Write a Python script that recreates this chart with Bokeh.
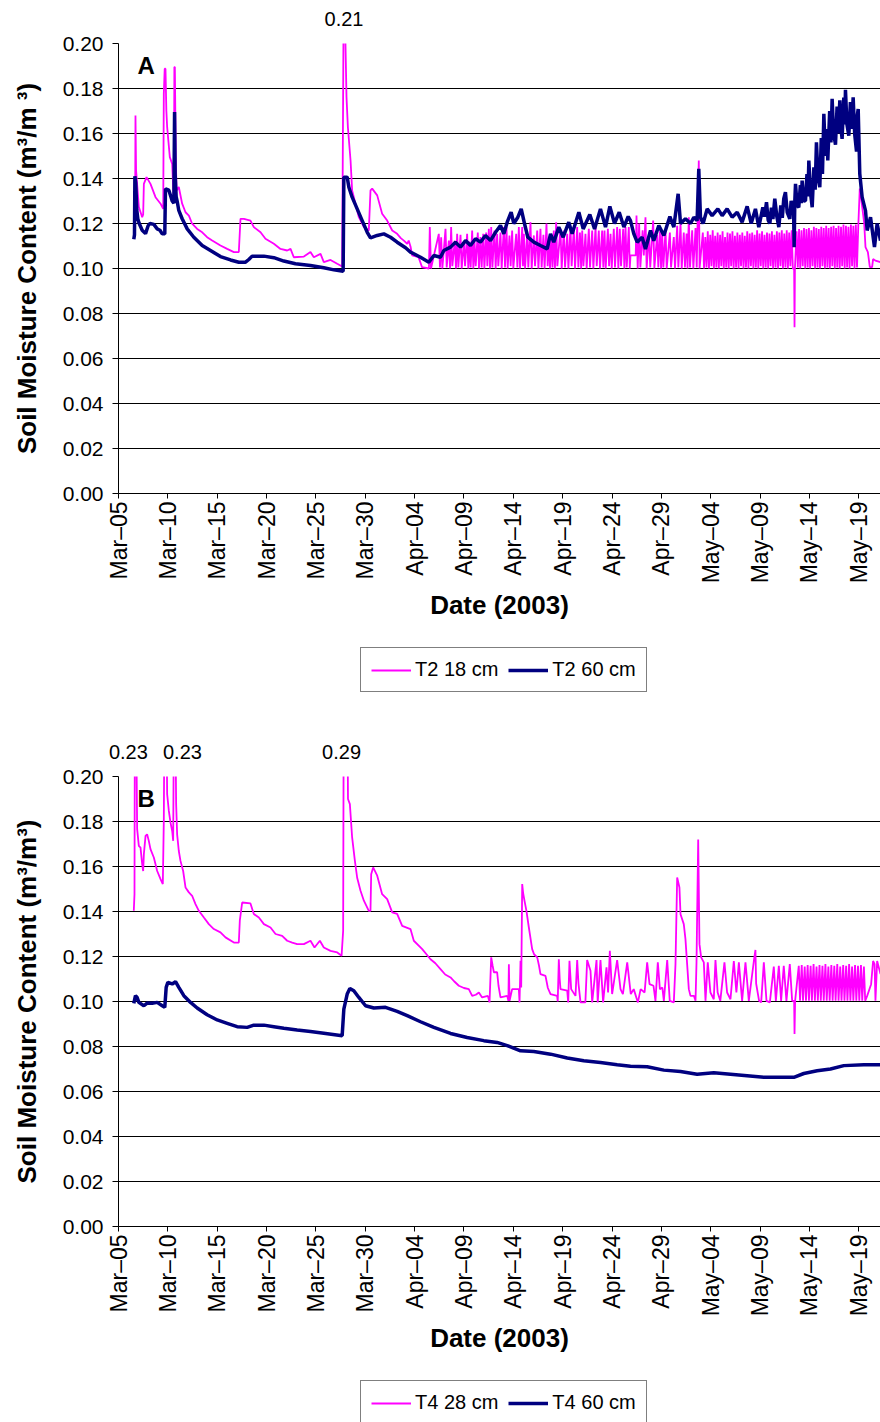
import math
from bokeh.plotting import figure
from bokeh.models import Range1d, FixedTicker, Label, Legend, LegendItem, NumeralTickFormatter, LinearAxis
from bokeh.layouts import column
from bokeh.embed import file_html
from bokeh.resources import INLINE

# ---------------- data (x = days since 5 March 2003, y = m3/m3) ----------------
X_TICK_DAYS = [0, 5, 10, 15, 20, 25, 30, 35, 40, 45, 50, 55, 60, 65, 70, 75]
X_TICK_LABELS = ["Mar\u201305", "Mar\u201310", "Mar\u201315", "Mar\u201320", "Mar\u201325", "Mar\u201330",
                 "Apr\u201304", "Apr\u201309", "Apr\u201314", "Apr\u201319", "Apr\u201324", "Apr\u201329",
                 "May\u201304", "May\u201309", "May\u201314", "May\u201319"]
Y_TICKS = [0.00, 0.02, 0.04, 0.06, 0.08, 0.10, 0.12, 0.14, 0.16, 0.18, 0.20]

T2_18CM = [
    (1.55,0.1184),(1.68,0.121),(1.72,0.168),(1.78,0.1436),(2.06,0.1273),(2.4,0.1228),(2.5,0.124),(2.57,0.1376),
    (2.84,0.1406),(3.24,0.1376),(3.75,0.1317),(4.26,0.1288),(4.53,0.1265),(4.59,0.1776),(4.68,0.1888),(4.76,0.1888),
    (4.85,0.1700),(4.93,0.1628),(5.2,0.1495),(5.44,0.1465),(5.55,0.135),(5.61,0.1302),(5.66,0.1895),(5.71,0.1895),
    (5.8,0.150),(5.88,0.1347),(6.11,0.1362),(6.45,0.1288),(6.79,0.125),(7.13,0.1235),(7.46,0.1199),(7.97,0.1176),
    (8.48,0.1161),(8.98,0.1139),(9.49,0.1124),(10.33,0.1102),(11.01,0.1087),(11.69,0.1073),(12.19,0.1073),
    (12.36,0.1221),(12.7,0.1221),(13.37,0.1213),(13.71,0.1184),(14.39,0.1161),(14.89,0.1132),(15.74,0.111),
    (16.41,0.1087),(17.09,0.108),(17.43,0.1087),(17.76,0.105),(18.78,0.1053),(19.45,0.1073),(19.79,0.105),
    (20.47,0.1065),(20.8,0.1028),(21.48,0.1038),(22.16,0.1021),(22.66,0.1009),(22.8,0.21),(22.95,0.21),
    (23.1,0.1761),(23.24,0.1628),(23.51,0.148),(23.67,0.1347),(24.01,0.1288),(24.35,0.1228),(24.86,0.1184),
    (25.36,0.1169),(25.53,0.1347),(25.7,0.1355),(26.21,0.1325),(26.71,0.1243),(27.22,0.1213),(27.73,0.1169),
    (28.23,0.1154),(28.6,0.1135),(28.91,0.1124),(29.25,0.111),(29.4,0.1124),(29.6,0.1095),(29.75,0.1058),
    (30.4,0.105),(30.75,0.1006),(31.45,0.1000),
    (31.54,0.1184),(31.66,0.1000),(32.45,0.1154),(32.57,0.1005),(32.69,0.1139),(32.81,0.1000),(33.13,0.1176),
    (33.25,0.1005),(33.47,0.1124),(33.59,0.1000),(33.70,0.1184),(33.82,0.1010),(34.07,0.1124),(34.19,0.1000),
    (34.31,0.1154),(34.43,0.1005),(34.65,0.1150),(34.77,0.1000),(34.99,0.1120),(35.11,0.1010),(35.32,0.1154),
    (35.44,0.1000),(35.56,0.1120),(35.68,0.1005),(35.83,0.1169),(35.95,0.1000),(36.07,0.1120),(36.19,0.1010),
    (36.40,0.1160),(36.52,0.1000),(36.67,0.1140),(36.79,0.1005),(36.95,0.1154),(37.07,0.1000),(37.25,0.1160),
    (37.37,0.1010),(37.52,0.1176),(37.64,0.1000),(37.76,0.1184),(37.88,0.1005),(38.09,0.1169),(38.21,0.1000),
    (38.36,0.1154),(38.48,0.1010),(38.70,0.1160),(38.82,0.1000),(39.04,0.1184),(39.16,0.1005),(39.31,0.1184),
    (39.43,0.1000),(39.61,0.1147),(39.73,0.1010),(39.88,0.1169),(40.00,0.1000),(40.29,0.1154),(40.41,0.1005),
    (40.56,0.1184),(40.68,0.1000),(40.90,0.1184),(40.98,0.1010),(41.07,0.1154),(41.19,0.1000),(41.40,0.1154),
    (41.52,0.1005),(41.74,0.1206),(41.86,0.1000),(42.08,0.1147),(42.20,0.1010),(42.42,0.1169),(42.54,0.1000),
    (42.75,0.1176),(42.87,0.1005),(43.05,0.1150),(43.17,0.1000),(43.36,0.1200),(43.48,0.1010),(43.60,0.1139),
    (43.72,0.1000),(43.85,0.1150),(43.97,0.1005),(44.10,0.1169),(44.22,0.1000),(44.34,0.1206),(44.46,0.1010),
    (44.78,0.1176),(44.90,0.1000),(45.12,0.1169),(45.24,0.1005),(45.46,0.1154),(45.58,0.1000),(45.79,0.1184),
    (45.91,0.1010),(46.13,0.1176),(46.25,0.1000),(46.47,0.1184),(46.59,0.1005),(46.75,0.1160),(46.87,0.1000),
    (46.98,0.1169),(47.10,0.1010),(47.31,0.1154),(47.43,0.1000),(47.65,0.1176),(47.77,0.1005),(47.99,0.1169),
    (48.11,0.1000),(48.33,0.1184),(48.45,0.1010),(48.66,0.1169),(48.78,0.1000),(49.00,0.1169),(49.12,0.1005),
    (49.24,0.1169),(49.36,0.1000),(49.58,0.1176),(49.70,0.1010),(49.85,0.1154),(49.97,0.1000),(50.18,0.1176),
    (50.30,0.1005),(50.52,0.1184),(50.64,0.1000),(50.79,0.1176),(50.91,0.1010),(51.13,0.1176),(51.25,0.1000),
    (51.37,0.1184),(51.49,0.1005),(51.70,0.1184),(51.80,0.1000),
    (51.87,0.1058),(52.40,0.1058),(52.48,0.1235),(52.60,0.1000),(52.75,0.1200),(52.87,0.1005),(53.10,0.1170),
    (53.22,0.1058),(53.39,0.1228),(53.51,0.1000),(53.75,0.1160),(53.87,0.1005),(54.17,0.1213),(54.29,0.1000),
    (54.57,0.1150),(54.69,0.1005),(54.85,0.1165),(54.97,0.1000),(55.08,0.1160),(55.20,0.1005),(55.42,0.1170),
    (55.54,0.1000),(55.86,0.1160),(55.98,0.1005),(56.26,0.1140),(56.38,0.1000),(56.60,0.1190),(56.72,0.1005),
    (56.94,0.1200),(57.06,0.1000),(57.27,0.1160),(57.39,0.1005),(57.55,0.1155),(57.65,0.1000),(57.78,0.1228),
    (57.90,0.1005),(58.12,0.1170),(58.24,0.1000),(58.46,0.1180),(58.58,0.1005),(58.79,0.1480),(58.87,0.1000),
    (59.20,0.1160),(59.32,0.1000),(59.45,0.1140),(59.57,0.1005),(59.70,0.1165),(59.82,0.1000),(59.95,0.1150),
    (60.07,0.1010),(60.20,0.1170),(60.32,0.1000),(60.45,0.1145),(60.57,0.1005),(60.70,0.1160),(60.82,0.1000),
    (60.95,0.1150),(61.07,0.1010),(61.20,0.1165),(61.32,0.1000),(61.45,0.1140),(61.57,0.1005),(61.70,0.1160),
    (61.82,0.1000),(61.95,0.1155),(62.07,0.1010),(62.20,0.1165),(62.32,0.1000),(62.45,0.1145),(62.57,0.1005),
    (62.70,0.1160),(62.82,0.1000),(62.95,0.1150),(63.07,0.1010),(63.20,0.1160),(63.32,0.1000),(63.45,0.1145),
    (63.57,0.1005),(63.70,0.1165),(63.82,0.1000),(63.95,0.1155),(64.07,0.1010),(64.20,0.1160),(64.32,0.1000),
    (64.45,0.1150),(64.57,0.1005),(64.70,0.1170),(64.82,0.1000),(64.95,0.1155),(65.07,0.1010),(65.20,0.1165),
    (65.32,0.1000),(65.45,0.1150),(65.57,0.1005),(65.70,0.1160),(65.82,0.1000),(65.95,0.1155),(66.07,0.1010),
    (66.20,0.1165),(66.32,0.1000),(66.45,0.1150),(66.57,0.1005),(66.70,0.1165),(66.82,0.1000),(66.95,0.1160),
    (67.07,0.1010),(67.20,0.1170),(67.32,0.1000),(67.45,0.1155),(67.57,0.1005),(67.70,0.1170),(67.82,0.1000),
    (67.95,0.1160),(68.07,0.1010),(68.20,0.1170),(68.32,0.1000),(68.45,0.1000),(68.49,0.0739),(68.53,0.1000),
    (68.70,0.1165),(68.82,0.1005),(68.95,0.1175),(69.07,0.1000),(69.20,0.1170),(69.32,0.1010),(69.45,0.1180),
    (69.57,0.1000),(69.70,0.1175),(69.82,0.1005),(69.95,0.1180),(70.07,0.1000),(70.20,0.1170),(70.32,0.1010),
    (70.45,0.1185),(70.57,0.1000),(70.70,0.1180),(70.82,0.1005),(70.95,0.1175),(71.07,0.1000),(71.20,0.1185),
    (71.32,0.1010),(71.45,0.1180),(71.57,0.1000),(71.70,0.1190),(71.82,0.1005),(71.95,0.1180),(72.07,0.1000),
    (72.20,0.1185),(72.32,0.1010),(72.45,0.1190),(72.57,0.1000),(72.70,0.1180),(72.82,0.1005),(72.95,0.1190),
    (73.07,0.1000),(73.20,0.1185),(73.32,0.1010),(73.45,0.1195),(73.57,0.1000),(73.70,0.1190),(73.82,0.1005),
    (73.95,0.1185),(74.07,0.1000),(74.20,0.1195),(74.32,0.1010),(74.45,0.1190),(74.57,0.1000),(74.70,0.1195),
    (74.82,0.1005),(74.95,0.1190),(75.10,0.1355),(75.30,0.1290),(75.55,0.1200),(75.68,0.1095),(75.92,0.1073),
    (76.12,0.1006),(76.35,0.1006),(76.45,0.1042),(76.69,0.1035),(77.20,0.1028),
]

T2_60CM = [
    (1.55,0.113),(1.62,0.115),(1.66,0.141),(1.75,0.138),(1.85,0.126),(1.96,0.122),(2.1,0.120),(2.4,0.117),
    (2.74,0.1155),(3.0,0.119),(3.18,0.120),(3.58,0.1196),(3.92,0.1176),(4.2,0.117),(4.43,0.1154),(4.69,0.1154),
    (4.76,0.1354),(5.1,0.1348),(5.3,0.132),(5.44,0.130),(5.61,0.129),(5.68,0.1695),(5.74,0.142),(5.84,0.132),
    (5.94,0.130),(6.11,0.1258),(6.45,0.1221),(6.96,0.1176),(7.63,0.1139),(8.48,0.1102),(9.32,0.108),
    (10.33,0.1053),(11.35,0.1038),(12.19,0.1028),(12.87,0.1028),(13.2,0.104),(13.54,0.1055),(14.73,0.1055),
    (15.74,0.1048),(16.75,0.1033),(17.93,0.1021),(19.45,0.1013),(20.8,0.1003),(21.82,0.0994),(22.76,0.0988),
    (22.83,0.1406),(23.17,0.1406),(23.34,0.1361),(23.67,0.1317),(24.18,0.1265),(24.69,0.1213),(25.2,0.1161),
    (25.53,0.1136),(26.21,0.1147),(26.88,0.1154),(27.56,0.1139),(28.23,0.1117),(29.08,0.1092),(29.58,0.1073),
    (30.6,0.105),(31.44,0.1028),(31.95,0.1058),(32.62,0.105),(32.96,0.108),(33.64,0.1095),(34.14,0.1117),
    (34.65,0.1095),(35.16,0.1124),(35.66,0.1102),(36.17,0.1132),(36.67,0.1117),(37.18,0.1147),(37.69,0.1124),
    (38.2,0.1161),(38.7,0.1191),(39.04,0.1154),(39.38,0.1206),(39.78,0.125),(40.05,0.12),(40.46,0.1228),
    (40.8,0.1265),(41.13,0.12),(41.47,0.1139),(42.08,0.1117),(42.75,0.1102),(43.43,0.1087),(43.77,0.1154),
    (44.1,0.1117),(44.61,0.1184),(45.05,0.1139),(45.62,0.1206),(45.96,0.1154),(46.64,0.125),(47.08,0.1176),
    (47.75,0.124),(48.23,0.1176),(48.83,0.1265),(49.34,0.1184),(49.78,0.1276),(50.25,0.12),(50.73,0.125),
    (51.2,0.1184),(51.64,0.1231),(51.87,0.1213),(52.21,0.1154),(52.55,0.1117),(53.05,0.1139),(53.39,0.1087),
    (53.9,0.1169),(54.23,0.1124),(54.74,0.1191),(55.25,0.1147),(55.86,0.1231),(56.26,0.1184),(56.7,0.1332),
    (56.94,0.12),(57.44,0.1221),(57.95,0.12),(58.29,0.1228),(58.62,0.1213),(58.79,0.1443),(58.96,0.1228),
    (59.23,0.12),(59.64,0.1265),(60.14,0.1235),(60.72,0.1265),(61.16,0.1235),(61.66,0.1265),(62.17,0.1228),
    (62.68,0.125),(63.18,0.1206),(63.69,0.1276),(64.1,0.12),(64.53,0.1265),(64.87,0.1184),
    (65.28,0.1272),(65.45,0.1230),(65.65,0.1295),(65.82,0.1215),(65.99,0.1200),(66.15,0.1270),(66.30,0.1220),
    (66.49,0.1310),(66.70,0.1230),(66.90,0.1184),(67.10,0.1280),(67.25,0.1225),(67.40,0.1310),(67.57,0.1339),
    (67.75,0.1250),(68.01,0.1221),(68.15,0.1300),(68.25,0.1287),(68.40,0.1240),(68.45,0.1095),(68.52,0.1300),
    (68.59,0.1376),(68.75,0.1280),(68.92,0.1272),(69.08,0.1370),(69.18,0.1290),(69.26,0.1391),(69.42,0.1300),
    (69.60,0.1302),(69.75,0.1420),(69.85,0.1320),(69.94,0.1480),(70.10,0.1340),(70.28,0.1272),(70.45,0.1450),
    (70.58,0.1350),(70.71,0.1561),(70.88,0.1400),(71.05,0.1361),(71.20,0.1580),(71.32,0.1420),(71.46,0.1688),
    (71.62,0.1500),(71.75,0.1620),(71.86,0.1480),(72.05,0.1700),(72.18,0.1560),(72.30,0.1754),(72.45,0.1600),
    (72.64,0.1550),(72.80,0.1720),(72.92,0.1600),(73.08,0.1747),(73.20,0.1620),(73.31,0.1576),(73.48,0.1760),
    (73.58,0.1640),(73.65,0.1794),(73.80,0.1640),(73.99,0.1590),(74.15,0.1740),(74.28,0.1620),(74.43,0.1761),
    (74.58,0.1600),(74.77,0.1520),(74.85,0.1680),(74.94,0.1709),(75.10,0.1421),(75.34,0.1317),(75.68,0.1257),
    (75.85,0.1169),(76.19,0.1228),(76.59,0.1095),(76.86,0.1200),(77.20,0.1124),
]

T4_28CM = [
    (1.55,0.1403),(1.62,0.1477),(1.66,0.23),(1.78,0.23),(1.89,0.1766),(2.06,0.1692),(2.23,0.1684),(2.4,0.161),
    (2.5,0.158),(2.57,0.1655),(2.74,0.1736),(2.9,0.1743),(3.07,0.1714),(3.24,0.1677),(3.58,0.164),(3.92,0.158),
    (4.26,0.1544),(4.49,0.1522),(4.59,0.1803),(4.66,0.23),(4.85,0.23),(4.93,0.1921),(5.1,0.1847),(5.27,0.1795),
    (5.44,0.1758),(5.54,0.1714),(5.62,0.23),(5.75,0.23),(5.84,0.1877),(5.94,0.1743),(6.11,0.1669),(6.28,0.1625),
    (6.55,0.158),(6.79,0.1507),(7.13,0.1485),(7.46,0.147),(7.8,0.1433),(8.14,0.1403),(8.65,0.1373),(9.15,0.1344),
    (9.66,0.1322),(10.33,0.1307),(10.84,0.1285),(11.69,0.1262),(12.19,0.1262),(12.29,0.1359),(12.53,0.144),
    (13.37,0.1436),(13.71,0.1389),(14.22,0.1373),(14.73,0.1344),(15.4,0.1329),(15.91,0.13),(16.58,0.1292),
    (17.09,0.127),(17.6,0.1262),(18.1,0.1255),(18.78,0.1255),(19.45,0.127),(19.86,0.124),(20.4,0.127),
    (20.8,0.124),(21.48,0.1225),(22.16,0.1218),(22.6,0.1203),(22.76,0.1314),(22.85,0.29),(23.1,0.29),
    (23.25,0.19),(23.44,0.1877),(23.67,0.1729),(23.95,0.1625),(24.18,0.155),(24.52,0.1492),(24.86,0.1448),
    (25.36,0.1403),(25.53,0.1403),(25.6,0.1566),(25.8,0.1596),(26.21,0.1559),(26.71,0.1477),(27.22,0.1455),
    (27.73,0.1396),(28.23,0.1389),(28.74,0.1336),(29.58,0.1322),(29.92,0.127),(30.77,0.1233),(31.2,0.121),
    (31.61,0.1188),(32.1,0.117),(32.62,0.1144),(33.1,0.112),(33.64,0.1107),(34.0,0.109),(34.48,0.107),
    (35.0,0.106),(35.49,0.1055),(35.83,0.1025),(36.2,0.103),(36.51,0.104),(36.84,0.1018),(37.42,0.1025),
    (37.59,0.0996),(37.76,0.1196),(37.9,0.116),(38.03,0.113),(38.36,0.113),(38.5,0.107),(38.7,0.1018),
    (39.38,0.1025),(39.5,0.1003),(39.55,0.1166),(39.62,0.1003),(39.88,0.1055),(40.56,0.1055),(40.63,0.0996),
    (40.73,0.1181),(40.8,0.1062),(40.9,0.1522),(41.0,0.148),(41.13,0.1448),(41.33,0.1403),(41.57,0.133),
    (41.91,0.1233),(42.1,0.121),(42.42,0.1196),(42.6,0.116),(42.75,0.1122),(43.26,0.1114),(43.5,0.106),
    (43.77,0.1033),(44.44,0.1025),(44.5,0.1),(44.61,0.1188),(44.7,0.110),(44.78,0.1055),(45.46,0.1048),
    (45.56,0.0996),(45.69,0.1181),(45.86,0.1055),(46.3,0.1025),(46.47,0.1184),(46.6,0.108),(46.81,0.0996),
    (47.3,0.0996),(47.48,0.1184),(47.82,0.1137),(47.99,0.0996),(48.43,0.1184),(48.55,0.0996),(48.83,0.1184),
    (49.1,0.0996),(49.44,0.1152),(49.6,0.104),(49.78,0.1225),(50.01,0.1033),(50.52,0.1184),(50.86,0.1055),
    (51.1,0.1033),(51.54,0.1174),(51.9,0.1033),(52.2,0.1055),(52.62,0.0996),(52.9,0.1055),(53.3,0.104),
    (53.56,0.1174),(53.8,0.1077),(54.2,0.107),(54.4,0.1003),(54.64,0.1174),(54.85,0.1055),(55.1,0.1062),
    (55.25,0.1003),(55.59,0.1184),(55.85,0.1003),(56.26,0.0996),(56.43,0.1166),(56.6,0.1551),(56.83,0.1507),
    (56.94,0.1388),(57.27,0.1344),(57.44,0.1277),(57.61,0.1166),(57.78,0.1055),(57.95,0.1025),(58.3,0.1025),
    (58.46,0.1003),(58.56,0.1174),(58.73,0.172),(58.86,0.1255),(59.03,0.1196),(59.3,0.1174),(59.47,0.1003),
    (59.7,0.1174),(59.97,0.104),(60.31,0.101),(60.48,0.1184),(60.7,0.104),(60.97,0.1003),(61.39,0.1174),
    (61.66,0.104),(62.0,0.101),(62.34,0.118),(62.6,0.104),(62.85,0.1174),(63.18,0.1003),(63.52,0.1174),
    (63.86,0.1003),(64.37,0.118),(64.53,0.1229),(64.6,0.108),(64.9,0.1003),(65.11,0.0996),(65.38,0.1174),
    (65.65,0.1003),(65.99,0.0996),(66.39,0.1155),(66.6,0.1003),(66.9,0.1159),(67.13,0.1003),(67.4,0.1159),
    (67.67,0.1003),(68.01,0.1166),(68.25,0.1003),(68.45,0.1003),(68.49,0.0856),(68.55,0.1003),(68.92,0.1159),
    (69.05,0.1003),(69.22,0.1162),(69.35,0.1003),(69.52,0.1155),(69.65,0.1003),(69.82,0.1162),(69.95,0.1003),
    (70.12,0.1159),(70.25,0.1003),(70.42,0.1166),(70.55,0.1003),(70.72,0.1155),(70.85,0.1003),(71.02,0.1162),
    (71.15,0.1003),(71.32,0.1159),(71.45,0.1003),(71.62,0.1166),(71.75,0.1003),(71.92,0.1155),(72.05,0.1003),
    (72.22,0.1162),(72.35,0.1003),(72.52,0.1159),(72.65,0.1003),(72.82,0.1166),(72.95,0.1003),(73.12,0.1155),
    (73.25,0.1003),(73.42,0.1162),(73.55,0.1003),(73.72,0.1159),(73.85,0.1003),(74.02,0.1166),(74.15,0.1003),
    (74.32,0.1155),(74.45,0.1003),(74.62,0.1162),(74.75,0.1003),(74.92,0.1159),(75.05,0.1003),(75.22,0.1162),
    (75.35,0.1003),(75.52,0.1155),(75.65,0.1003),(75.85,0.1025),(76.25,0.1077),(76.45,0.118),(76.6,0.1166),
    (76.69,0.1003),(76.86,0.118),(77.2,0.1122),
]

T4_60CM = [
    (1.55,0.0992),(1.72,0.1026),(1.89,0.1018),(2.06,0.0996),(2.57,0.0981),(2.9,0.0993),(3.41,0.0992),
    (3.92,0.0996),(4.43,0.0981),(4.69,0.0974),(4.83,0.1063),(5.0,0.1085),(5.44,0.1078),(5.78,0.1088),
    (6.11,0.1063),(6.62,0.1026),(7.3,0.0996),(7.97,0.0971),(8.98,0.0941),(10.0,0.0918),(11.01,0.0903),
    (12.02,0.0888),(13.04,0.0885),(13.71,0.0895),(14.73,0.0895),(15.74,0.0888),(16.75,0.0881),(18.1,0.0873),
    (19.45,0.0867),(20.8,0.0859),(22.66,0.0848),(22.83,0.0966),(23.17,0.1033),(23.44,0.1058),(23.84,0.1048),
    (24.35,0.1018),(25.03,0.0981),(25.87,0.0971),(27.05,0.0974),(28.23,0.0956),(29.25,0.0937),(30.6,0.091),
    (31.95,0.0885),(33.64,0.0858),(35.32,0.084),(37.01,0.0826),(38.36,0.0818),(39.38,0.0804),(40.73,0.0781),
    (42.08,0.0778),(43.77,0.0766),(45.46,0.0749),(47.14,0.0737),(48.83,0.0729),(50.52,0.0719),(51.87,0.0712),
    (53.56,0.071),(55.25,0.0695),(56.94,0.0689),(58.62,0.0677),(60.31,0.0683),(62.0,0.0677),(63.69,0.067),
    (65.38,0.0663),(67.07,0.0663),(68.42,0.0663),(69.43,0.068),(70.78,0.0692),(72.13,0.07),(73.48,0.0715),
    (75.51,0.0719),(77.2,0.0719),
]

# off-scale peak annotations: (day, text)
PEAKS_A = [(22.85, "0.21")]
PEAKS_B = [(1.0, "0.23"), (6.48, "0.23"), (22.6, "0.29")]

# ---------------- styling / layout ----------------
FONT = "Liberation Sans"
PINK = "#FF00FF"
NAVY = "#000080"
PINK_W = 1.8
NAVY_W = 3.5
X_END = 77.2
W = 880
LEFT = 118
MAIN_TOP = 43
FRAME_H = 450
MAIN_BOTTOM = 147


def unzip(pairs):
    return [p[0] for p in pairs], [p[1] for p in pairs]


def legend_strip(height, shallow, deep, names, y_loc):
    # series drawn again only to feed the legend samples; the y range keeps them out of view
    f = figure(width=W, height=height, x_range=Range1d(0, X_END), y_range=Range1d(10, 11),
               output_backend="svg", toolbar_location=None,
               x_axis_location=None, y_axis_location=None,
               min_border_left=LEFT, min_border_right=0, min_border_top=0, min_border_bottom=0,
               outline_line_color=None, background_fill_color="white", border_fill_color="white")
    f.xgrid.visible = False
    f.ygrid.visible = False
    sx, sy = unzip(shallow)
    dx, dy = unzip(deep)
    e1 = f.line(sx, sy, line_color=PINK, line_width=PINK_W)
    e2 = f.line(dx, dy, line_color=NAVY, line_width=NAVY_W)
    legend = Legend(items=[LegendItem(label=names[0], renderers=[e1]),
                           LegendItem(label=names[1], renderers=[e2])],
                    location=(360 - LEFT, y_loc), orientation="horizontal",
                    label_text_font=FONT, label_text_font_size="20px", label_text_color="black",
                    glyph_width=40, glyph_height=20, label_height=20, label_standoff=4,
                    spacing=10, padding=10, margin=0,
                    border_line_color="black", border_line_width=1,
                    background_fill_color="white", background_fill_alpha=1.0)
    f.add_layout(legend)
    return f


def main_panel(shallow, deep, y_title, letter, peaks):
    p = figure(width=W, height=MAIN_TOP + FRAME_H + MAIN_BOTTOM, x_range=Range1d(0, X_END),
               y_range=Range1d(0, 0.2), output_backend="svg", toolbar_location=None,
               min_border_left=LEFT, min_border_right=0, min_border_top=MAIN_TOP,
               min_border_bottom=MAIN_BOTTOM, outline_line_color=None,
               background_fill_color="white", border_fill_color="white")

    sx, sy = unzip(shallow)
    dx, dy = unzip(deep)
    p.line(sx, sy, line_color=PINK, line_width=PINK_W)
    p.line(dx, dy, line_color=NAVY, line_width=NAVY_W)

    xa = p.xaxis[0]
    xa.ticker = FixedTicker(ticks=X_TICK_DAYS)
    xa.major_label_overrides = {d: lab for d, lab in zip(X_TICK_DAYS, X_TICK_LABELS)}
    xa.major_label_orientation = math.pi / 2
    xa.major_label_text_font = FONT
    xa.major_label_text_font_size = "23px"
    xa.major_label_text_color = "black"
    xa.major_label_standoff = 3
    xa.major_tick_out = 5
    xa.major_tick_in = 0
    xa.minor_tick_line_color = None
    xa.axis_line_color = "black"
    xa.major_tick_line_color = "black"
    xa.axis_label = "Date (2003)"
    xa.axis_label_text_font = FONT
    xa.axis_label_text_font_style = "bold"
    xa.axis_label_text_font_size = "26px"
    xa.axis_label_text_color = "black"
    xa.axis_label_standoff = 4

    ya = p.yaxis[0]
    ya.ticker = FixedTicker(ticks=Y_TICKS)
    ya.formatter = NumeralTickFormatter(format="0.00")
    ya.major_label_text_font = FONT
    ya.major_label_text_font_size = "21px"
    ya.major_label_text_color = "black"
    ya.major_label_standoff = 9
    ya.major_tick_out = 6
    ya.major_tick_in = 0
    ya.minor_tick_line_color = None
    ya.axis_line_color = "black"
    ya.major_tick_line_color = "black"
    ya.axis_label = y_title
    ya.axis_label_text_font = FONT
    ya.axis_label_text_font_style = "bold"
    ya.axis_label_text_font_size = "26px"
    ya.axis_label_text_color = "black"
    ya.axis_label_standoff = 18

    # off-scale peak values shown as labels of a line-less axis above the frame
    pk_days = [d for d, _ in peaks]
    top = LinearAxis(ticker=FixedTicker(ticks=pk_days),
                     major_label_overrides={d: t for d, t in peaks},
                     axis_line_color=None, major_tick_line_color=None, minor_tick_line_color=None,
                     major_tick_out=0, major_tick_in=0, major_label_standoff=18,
                     major_label_text_font=FONT, major_label_text_font_size="20px",
                     major_label_text_color="black")
    p.add_layout(top, "above")

    p.xgrid.visible = False
    p.ygrid.ticker = FixedTicker(ticks=Y_TICKS)
    p.ygrid.grid_line_color = "black"
    p.ygrid.grid_line_width = 1

    p.add_layout(Label(x=1.93, y=0.1903, text=letter, text_font=FONT, text_font_style="bold",
                       text_font_size="24px", text_color="black", text_baseline="alphabetic"))
    return p


a_main = main_panel(T2_18CM, T2_60CM, "Soil Moisture Content (m\u00b3/m \u00b3)", "A", PEAKS_A)
a_leg = legend_strip(93, T2_18CM, T2_60CM, ["T2 18 cm", "T2 60 cm"], 41)
b_main = main_panel(T4_28CM, T4_60CM, "Soil Moisture Content (m\u00b3/m\u00b3)", "B", PEAKS_B)
b_leg = legend_strip(49, T4_28CM, T4_60CM, ["T4 28 cm", "T4 60 cm"], -3)

layout = column(a_main, a_leg, b_main, b_leg, spacing=0)
open("out.html", "w").write(file_html(layout, INLINE))
